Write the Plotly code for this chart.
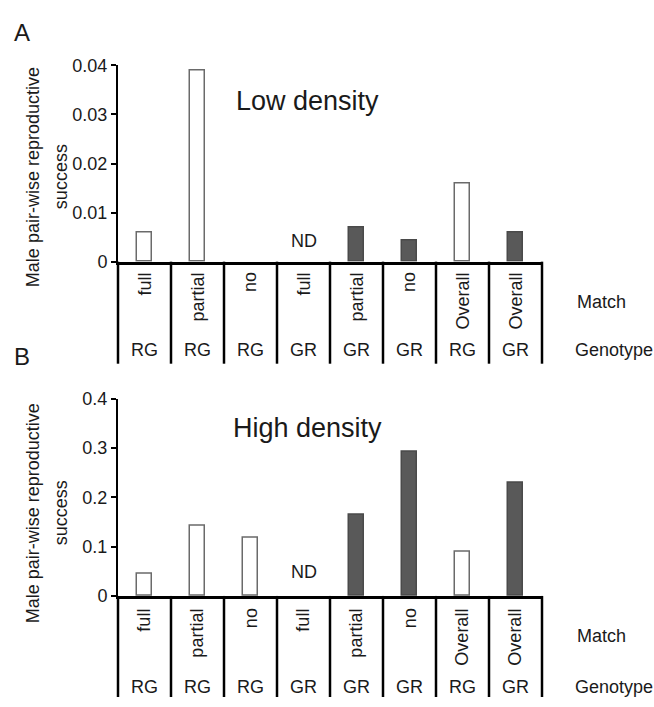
import plotly.graph_objects as go

# ---- data ----
match_labels = ["full", "partial", "no", "full", "partial", "no", "Overall", "Overall"]
genotype_labels = ["RG", "RG", "RG", "GR", "GR", "GR", "RG", "GR"]
low_density = [0.006, 0.039, 0.0, None, 0.007, 0.0044, 0.016, 0.006]
high_density = [0.045, 0.142, 0.118, None, 0.164, 0.292, 0.089, 0.229]
low_ticks = [0, 0.01, 0.02, 0.03, 0.04]
low_tick_text = ["0", "0.01", "0.02", "0.03", "0.04"]
high_ticks = [0, 0.1, 0.2, 0.3, 0.4]
high_tick_text = ["0", "0.1", "0.2", "0.3", "0.4"]

W, H = 654, 707
FONT = "Liberation Sans, Arial, sans-serif"
TXT = "#1a1a1a"

def py(pix):  # pixel from top -> paper y
    return 1 - pix / H

def px(pix):
    return pix / W

xdom = [px(118), px(542)]
fill_map = {"RG": "white", "GR": "#595959"}
line_map = {"RG": "#6a6a6a", "GR": "#4a4a4a"}
xs = list(range(len(match_labels)))

fig = go.Figure()
for vals, xa, ya in [(low_density, "x", "y"), (high_density, "x2", "y2")]:
    fig.add_trace(go.Bar(
        x=xs, y=[v if v else None for v in vals],
        width=0.28,
        marker=dict(color=[fill_map[g] for g in genotype_labels],
                    line=dict(color=[line_map[g] for g in genotype_labels], width=1.5)),
        xaxis=xa, yaxis=ya, showlegend=False, hoverinfo="skip"))

axis_common = dict(showgrid=False, zeroline=False)
yaxis_common = dict(ticks="outside", ticklen=5, tickwidth=2, tickcolor="black",
                    showline=True, linecolor="black", linewidth=2,
                    tickfont=dict(size=18, color=TXT, family=FONT), **axis_common)
fig.update_layout(
    width=W, height=H, margin=dict(l=0, r=0, t=0, b=0),
    plot_bgcolor="white", paper_bgcolor="white",
    font=dict(family=FONT, size=18, color=TXT),
    bargap=0,
    xaxis=dict(domain=xdom, range=[-0.5, 7.5], showticklabels=False, ticks="",
               showline=True, linecolor="black", linewidth=3, anchor="y", **axis_common),
    xaxis2=dict(domain=xdom, range=[-0.5, 7.5], showticklabels=False, ticks="",
                showline=True, linecolor="black", linewidth=3, anchor="y2", **axis_common),
    yaxis=dict(domain=[py(259), py(57)], range=[0, 0.04], tickvals=low_ticks, ticktext=low_tick_text,
               anchor="x", **yaxis_common),
    yaxis2=dict(domain=[py(603), py(400)], range=[0, 0.4], tickvals=high_ticks, ticktext=high_tick_text,
                anchor="x2", **yaxis_common),
)

shapes = []
annotations = []
n = len(match_labels)

def xb(i):  # paper x for cell boundary i
    return xdom[0] + (xdom[1] - xdom[0]) * i / n

panels = [
    (259, 364, 268, 350, 238, 172, "A", 23, "Low density", 94, "x"),
    (603, 707, 614, 697, 578, 518, "B", 357, "High density", 430, "x2"),
]
for zero_px, bot_px, mt_px, g_px, nd_px, tc_px, letter, letter_px, dens, dens_px, xr in panels:
    for i in range(n + 1):
        shapes.append(dict(type="line", xref="paper", yref="paper",
                           x0=xb(i), x1=xb(i), y0=py(zero_px), y1=py(bot_px),
                           line=dict(color="black", width=2.5)))
    for i, (m, g) in enumerate(zip(match_labels, genotype_labels)):
        annotations.append(dict(x=i, xref=xr, y=py(mt_px), yref="paper", text=m, textangle=-90,
                                showarrow=False, xanchor="center", yanchor="top",
                                font=dict(size=18, color=TXT)))
        annotations.append(dict(x=i, xref=xr, y=py(g_px), yref="paper", text=g,
                                showarrow=False, xanchor="center", yanchor="middle",
                                font=dict(size=18, color=TXT)))
    annotations.append(dict(x=3, xref=xr, y=py(nd_px), yref="paper", text="ND", showarrow=False,
                            xanchor="center", yanchor="middle", font=dict(size=18, color=TXT)))
    annotations.append(dict(x=px(575), xref="paper", y=py(zero_px + 41), yref="paper", text="Match",
                            showarrow=False, xanchor="left", yanchor="middle", font=dict(size=18, color=TXT)))
    annotations.append(dict(x=px(573), xref="paper", y=py(g_px), yref="paper", text="Genotype",
                            showarrow=False, xanchor="left", yanchor="middle", font=dict(size=18, color=TXT)))
    annotations.append(dict(x=px(33), xref="paper", y=py(tc_px), yref="paper",
                            text="Male pair-wise reproductive", textangle=-90, showarrow=False,
                            xanchor="center", yanchor="middle", font=dict(size=18, color=TXT)))
    annotations.append(dict(x=px(61), xref="paper", y=py(tc_px), yref="paper",
                            text="success", textangle=-90, showarrow=False,
                            xanchor="center", yanchor="middle", font=dict(size=18, color=TXT)))
    annotations.append(dict(x=px(22), xref="paper", y=py(letter_px), yref="paper", text=letter,
                            showarrow=False, xanchor="center", yanchor="middle",
                            font=dict(size=24, color=TXT)))
    annotations.append(dict(x=px(307), xref="paper", y=py(dens_px), yref="paper", text=dens,
                            showarrow=False, xanchor="center", yanchor="middle",
                            font=dict(size=27, color=TXT)))

fig.update_layout(shapes=shapes, annotations=annotations)
fig.write_html("out.html",
               config={"displayModeBar": False},
               post_script="document.body.style.margin='0';document.body.style.padding='0';"
                           "document.body.style.overflow='hidden';"
                           "document.documentElement.style.overflow='hidden';")
